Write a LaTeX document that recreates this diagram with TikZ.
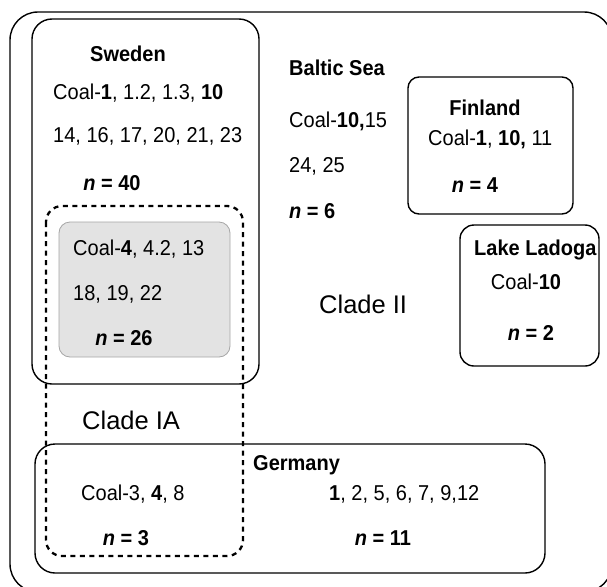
\documentclass[tikz,border=0pt]{standalone}
\usepackage{fontspec}
\setmainfont{Liberation Sans}[FakeStretch=0.93]
\newfontfamily\plainsans{Liberation Sans}
\begin{document}
\begin{tikzpicture}[x=1pt,y=-1pt,
  box/.style={draw=black, line width=1.4pt},
  txt/.style={inner sep=0pt, font=\fontsize{21.5}{25}\selectfont},
  btxt/.style={inner sep=0pt, font=\fontsize{21.5}{25}\selectfont\bfseries},
  big/.style={inner sep=0pt, font=\plainsans\fontsize{25.5}{30}\selectfont}]
\useasboundingbox (0,0) rectangle (607,586);
\clip (0,0) rectangle (607,586);
\fill[white] (0,0) rectangle (607,586);
% outer
\draw[box] (10,12) [rounded corners=28pt] rectangle (612,592);
% Sweden
\draw[box] (32,19) [rounded corners=20pt] rectangle (259,384);
% gray
\draw[draw=gray!70, fill=gray!22, line width=0.8pt] (59,222) [rounded corners=11pt] rectangle (230,357);
% Germany
\draw[box] (35,444) [rounded corners=20pt] rectangle (545,573);
% Finland
\draw[box] (408,77) [rounded corners=11pt] rectangle (573,214);
% Lake Ladoga
\draw[box] (460,225) [rounded corners=14pt] rectangle (599,366);
% dashed clade IA
\draw[line width=2.3pt, dash pattern=on 5pt off 4.5pt] (46,206) [rounded corners=16pt] rectangle (243,556);

% texts
\node[btxt, anchor=base] (sw) at (128,62) {Sweden};
\node[txt, anchor=base west] (sw1) at (53,99) {Coal-\textbf{1}, 1.2, 1.3, \textbf{10}};
\node[txt, anchor=base west] (sw2) at (53,142) {14, 16, 17, 20, 21, 23};
\node[btxt, anchor=base] (swn) at (112,190) {\textit{n} = 40};

\node[txt, anchor=base west] (g1) at (73,255) {Coal-\textbf{4}, 4.2, 13};
\node[txt, anchor=base west] (g2) at (73,300) {18, 19, 22};
\node[btxt, anchor=base] (gn) at (124,345) {\textit{n} = 26};

\node[big, anchor=base west] (cia) at (82,429) {Clade IA};
\node[big, anchor=base west] (cii) at (319,313) {Clade II};

\node[btxt, anchor=base west] (de) at (253,470) {Germany};
\node[txt, anchor=base west] (de1) at (81,500) {Coal-3, \textbf{4}, 8};
\node[btxt, anchor=base] (den1) at (126,545) {\textit{n} = 3};
\node[txt, anchor=base west] (de2) at (329,500) {\textbf{1}, 2, 5, 6, 7, 9,12};
\node[btxt, anchor=base] (den2) at (383,545) {\textit{n} = 11};

\node[btxt, anchor=base west] (bs) at (289,75) {Baltic Sea};
\node[txt, anchor=base west] (bs1) at (289,127) {Coal-\textbf{10,}15};
\node[txt, anchor=base west] (bs2) at (289,172) {24, 25};
\node[btxt, anchor=base west] (bsn) at (289,218) {\textit{n} = 6};

\node[btxt, anchor=base] (fi) at (485,115) {Finland};
\node[txt, anchor=base west] (fi1) at (428,145) {Coal-\textbf{1}, \textbf{10,} 11};
\node[btxt, anchor=base] (fin) at (475,192) {\textit{n} = 4};

\node[btxt, anchor=base west] (ll) at (474,255) {Lake Ladoga};
\node[txt, anchor=base] (ll1) at (526,289) {Coal-\textbf{10}};
\node[btxt, anchor=base] (lln) at (531,340) {\textit{n} = 2};
\end{tikzpicture}
\end{document}
